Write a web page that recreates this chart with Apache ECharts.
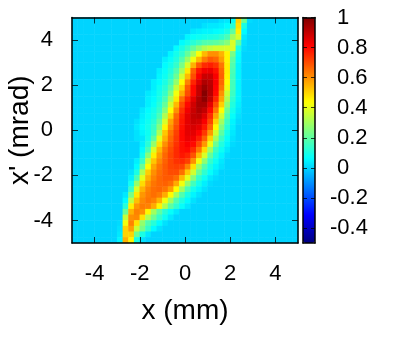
<!DOCTYPE html>
<html>
<head>
<meta charset="utf-8">
<script src="https://cdn.jsdelivr.net/npm/echarts@6/dist/echarts.min.js"></script>
<style>
  html, body {margin: 0; padding: 0; background: #fff;}
  #main {width: 401px; height: 340px;}
</style>
</head>
<body>
<div id="main"></div>
<script>
const x_ticks = [-4, -2, 0, 2, 4];
const y_ticks = [-4, -2, 0, 2, 4];
const bar_ticks = [-0.4, -0.2, 0, 0.2, 0.4, 0.6, 0.8, 1];
const jet_colors = ["#00007f", "#0000ff", "#007fff", "#00ffff", "#7fff7f", "#ffff00", "#ff7f00", "#ff0000", "#7f0000"];

// phase space cells, 40 x 40, top row first, in hundredths.
// only the columns the beam touches are listed, the rest is background
const n_cells = 40;
const band_start = 8;
const background = 0;
const band_rows = [
  [0,0,0,0,0,0,0,0,0,0,0,0,0,0,0,0,0,0,2,3,7,50,22,1],
  [0,0,0,0,0,0,0,0,0,0,0,0,0,0,0,2,3,3,4,6,12,48,10,0],
  [0,0,0,0,0,0,0,0,0,0,0,0,0,3,4,5,5,6,7,10,20,46,6,0],
  [0,0,0,0,0,0,0,0,0,0,0,0,5,7,8,9,10,11,13,17,30,38,3,0],
  [0,0,0,0,0,0,0,0,0,0,0,6,9,12,15,18,19,20,22,26,38,20,2,0],
  [0,0,0,0,0,0,0,0,0,0,6,10,15,21,27,32,35,37,37,38,38,10,1,0],
  [0,0,0,0,0,0,0,0,0,5,9,13,21,31,43,54,60,60,55,45,24,7,0,0],
  [0,0,0,0,0,0,0,0,4,7,11,18,29,42,54,63,68,66,58,45,20,6,0,0],
  [0,0,0,0,0,0,0,0,6,9,14,24,38,55,68,75,77,74,64,46,18,5,0,0],
  [0,0,0,0,0,0,0,4,7,11,18,30,47,67,78,83,84,79,66,46,17,5,0,0],
  [0,0,0,0,0,0,0,5,8,13,22,37,54,70,82,89,89,82,67,45,16,5,0,0],
  [0,0,0,0,0,0,4,6,10,16,28,44,62,76,86,93,91,82,66,44,16,5,0,0],
  [0,0,0,0,0,0,4,8,12,20,35,50,68,80,90,96,92,81,64,41,16,5,0,0],
  [0,0,0,0,0,3,5,9,14,25,42,56,70,80,90,99,92,80,60,36,15,5,0,0],
  [0,0,0,0,0,4,6,10,17,31,47,65,76,85,93,98,90,76,57,32,13,5,0,0],
  [0,0,0,0,0,4,7,12,21,37,54,70,80,88,94,94,85,70,51,27,11,4,0,0],
  [0,0,0,0,3,6,9,14,26,44,60,74,83,89,93,90,80,64,44,22,9,3,0,0],
  [0,0,0,0,4,7,10,17,32,50,66,77,85,90,91,86,75,57,37,18,7,2,0,0],
  [0,0,0,2,5,8,12,21,38,57,68,78,85,89,88,82,71,50,30,15,5,1,0,0],
  [0,0,0,3,6,9,14,26,45,60,70,79,85,87,85,78,66,44,25,12,4,0,0,0],
  [0,0,0,2,5,8,15,32,52,64,72,80,85,85,81,73,59,37,20,9,3,0,0,0],
  [0,0,0,2,3,9,20,40,55,66,73,80,84,83,77,67,50,30,15,7,2,0,0,0],
  [0,0,0,0,4,12,28,48,60,68,74,79,82,80,71,59,41,22,11,5,1,0,0,0],
  [0,0,0,0,6,17,38,54,64,70,75,79,80,75,64,49,30,15,8,3,0,0,0,0],
  [0,0,0,0,9,26,46,58,66,71,75,78,76,69,54,38,21,11,5,1,0,0,0,0],
  [0,0,0,4,14,36,52,61,67,71,74,75,72,60,42,27,14,8,3,0,0,0,0,0],
  [0,0,0,6,22,44,57,64,68,71,72,71,62,48,30,18,10,5,2,0,0,0,0,0],
  [0,0,2,10,32,51,60,65,68,70,70,65,52,37,22,13,7,3,0,0,0,0,0,0],
  [0,0,4,17,40,55,62,66,68,68,65,54,40,26,14,8,3,1,0,0,0,0,0,0],
  [0,0,8,28,49,59,64,66,67,65,56,42,28,16,9,4,1,0,0,0,0,0,0,0],
  [0,0,14,38,55,62,65,66,64,58,44,30,17,9,5,2,0,0,0,0,0,0,0,0],
  [0,3,24,47,59,63,65,63,56,44,30,18,10,5,2,0,0,0,0,0,0,0,0,0],
  [0,6,34,53,61,64,62,55,42,30,18,11,6,2,0,0,0,0,0,0,0,0,0,0],
  [0,12,46,59,63,62,56,45,32,20,13,7,3,0,0,0,0,0,0,0,0,0,0,0],
  [0,22,55,62,60,45,30,20,12,7,3,0,0,0,0,0,0,0,0,0,0,0,0,0],
  [0,35,60,61,48,32,22,14,8,3,0,0,0,0,0,0,0,0,0,0,0,0,0,0],
  [1,42,62,48,28,18,12,6,2,0,0,0,0,0,0,0,0,0,0,0,0,0,0,0],
  [2,50,58,36,24,14,6,2,0,0,0,0,0,0,0,0,0,0,0,0,0,0,0,0],
  [3,50,50,22,10,3,0,0,0,0,0,0,0,0,0,0,0,0,0,0,0,0,0,0],
  [5,55,45,10,2,0,0,0,0,0,0,0,0,0,0,0,0,0,0,0,0,0,0,0]
];

function heatCells(){
  const cells = [];
  band_rows.forEach((row, r) => {
    for(let c = 0; c < n_cells; c++){
      const value = row[c - band_start];
      cells.push([c, n_cells - 1 - r, value === undefined ? background : value / 100]);
    }
  });
  return cells;
}

function indexList(){
  const list = [];
  for(let i = 0; i < n_cells; i++) list.push(i);
  return list;
}

const tick_color = "rgba(0, 0, 0, 0.75)";
const frame_line = {show: true, onZero: false, lineStyle: {color: "#000", width: 1.5}};

// value axis drawn on top of the cells, only the visible labels differ between sides
function frameAxis(grid, position, range, ticks, tick_length, labels, extra){
  return Object.assign({
    type: "value", gridIndex: grid, position, min: range[0], max: range[1], z: 5,
    axisLine: frame_line,
    axisTick: {show: ticks.length > 0, inside: true, length: tick_length, customValues: ticks, lineStyle: {color: tick_color, width: 1}},
    axisLabel: labels || {show: false},
    splitLine: {show: false}
  }, extra);
}

const tick_label = {fontFamily: "Liberation Sans", fontSize: 22, color: "#000"};
const axis_name = {fontFamily: "Liberation Sans", fontSize: 28, color: "#000"};

const option = {
  animation: false,
  grid: [
    {left: 72, top: 17.5, width: 226, height: 225.5, outerBoundsMode: "none"},
    {left: 303, top: 17.5, width: 12, height: 225.5, outerBoundsMode: "none"}
  ],
  xAxis: [
    {type: "category", gridIndex: 0, data: indexList(), show: false},
    frameAxis(0, "bottom", [-5, 5], x_ticks, 6,
      Object.assign({margin: 20, customValues: x_ticks}, tick_label),
      {name: "x (mm)", nameLocation: "middle", nameGap: 54, nameMoveOverlap: false, nameTextStyle: axis_name}),
    frameAxis(0, "top", [-5, 5], x_ticks, 6),
    frameAxis(1, "bottom", [0, 1], [], 0),
    frameAxis(1, "top", [0, 1], [], 0)
  ],
  yAxis: [
    {type: "category", gridIndex: 0, data: indexList(), show: false},
    frameAxis(0, "left", [-5, 5], y_ticks, 6,
      Object.assign({margin: 19, customValues: y_ticks}, tick_label),
      {name: "x' (mrad)", nameLocation: "middle", nameGap: 38, nameMoveOverlap: false, nameTextStyle: axis_name}),
    frameAxis(0, "right", [-5, 5], y_ticks, 6),
    frameAxis(1, "left", [-0.5, 1], bar_ticks, 4),
    frameAxis(1, "right", [-0.5, 1], bar_ticks, 4,
      Object.assign({margin: 22, customValues: bar_ticks.filter((v) => v >= 0)}, tick_label)),
    // negative labels start further left because of the minus sign
    frameAxis(1, "right", [-0.5, 1], [], 0,
      Object.assign({margin: 15, customValues: bar_ticks.filter((v) => v < 0)}, tick_label),
      {axisLine: {show: false}})
  ],
  visualMap: {
    type: "continuous", min: -0.5, max: 1, left: 303, top: 17.5, itemWidth: 12, itemHeight: 225.5,
    padding: 0, calculable: false, hoverLink: false, text: null, showLabel: false, z: 1,
    dimension: 2, seriesIndex: 0,
    inRange: {color: jet_colors},
    textStyle: {fontSize: 0}
  },
  series: [{
    type: "heatmap",
    xAxisIndex: 0,
    yAxisIndex: 0,
    data: heatCells(),
    itemStyle: {borderWidth: 0},
    emphasis: {disabled: true},
    progressive: 0
  }]
};

const chart = echarts.init(document.getElementById("main"), null, {renderer: "canvas"});
chart.setOption(option);
</script>
</body>
</html>
